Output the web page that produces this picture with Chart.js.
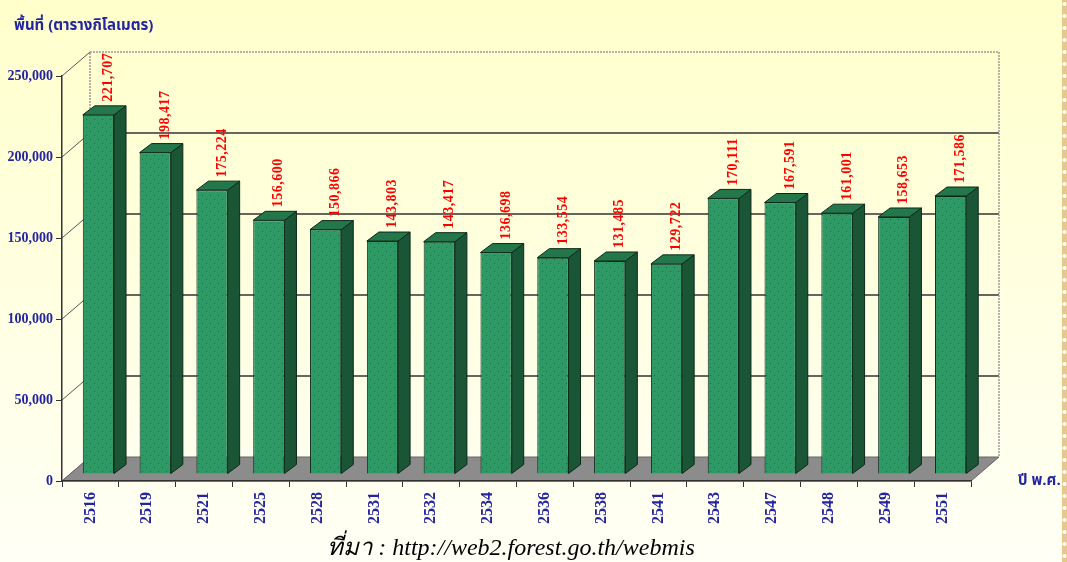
<!DOCTYPE html>
<html>
<head>
<meta charset="utf-8">
<script src="https://cdn.jsdelivr.net/npm/chart.js@4/dist/chart.umd.min.js"></script>
<style>
  html, body { margin: 0; padding: 0; background: #fffff4; }
  #wrap { width: 1067px; height: 562px; }
</style>
</head>
<body>
<div id="wrap"><canvas id="chart" width="1067" height="562"></canvas></div>
<script>
const years = ["2516", "2519", "2521", "2525", "2528", "2531", "2532", "2534", "2536", "2538", "2541", "2543", "2547", "2548", "2549", "2551"];
const area = [221707, 198417, 175224, 156600, 150866, 143803, 143417, 136698, 133554, 131485, 129722, 170111, 167591, 161001, 158653, 171586];
const yTicks = [0, 50000, 100000, 150000, 200000, 250000];

const yTitle = "พื้นที่ (ตารางกิโลเมตร)";
const xTitle = "ปี พ.ศ.";
const source = "ที่มา : http://web2.forest.go.th/webmis";

// depth of back wall, shift of bars into the box, depth of each bar
const WALL = { dx: 28, dy: -24 };
const SHIFT = { dx: 8, dy: -7 };
const BAR = { dx: 12, dy: -9 };

const blue = "#2424a0";
const thaiFont = "'Noto Sans Thai', 'Noto Sans', 'DejaVu Sans', sans-serif";

// dotted green fill for the bar faces
const tile = document.createElement("canvas");
tile.width = 8;
tile.height = 8;
const tctx = tile.getContext("2d");
tctx.fillStyle = "#2f9966";
tctx.fillRect(0, 0, 8, 8);
tctx.fillStyle = "#1f6a45";
tctx.fillRect(2, 2, 1, 1);
tctx.fillRect(6, 6, 1, 1);
const dots = tctx.createPattern(tile, "repeat");

const poly = (ctx, pts, fill, stroke) => {
	ctx.beginPath();
	ctx.moveTo(pts[0][0], pts[0][1]);
	pts.slice(1).forEach((p) => ctx.lineTo(p[0], p[1]));
	ctx.closePath();
	if (fill) {
		ctx.fillStyle = fill;
		ctx.fill();
	}
	if (stroke) {
		ctx.strokeStyle = stroke;
		ctx.lineWidth = 1;
		ctx.stroke();
	}
};

const scene = {
	id: "scene",
	beforeDraw(chart) {
		const { ctx, chartArea: a, scales } = chart;
		const w = chart.width;
		const h = chart.height;
		ctx.save();

		const bg = ctx.createLinearGradient(0, 0, 0, h);
		bg.addColorStop(0, "#ffffcc");
		bg.addColorStop(1, "#fffff6");
		ctx.fillStyle = bg;
		ctx.fillRect(0, 0, w, h);

		// dashed edge on the right
		ctx.fillStyle = "#e6c88c";
		ctx.fillRect(1062, 0, 5, h);
		ctx.fillStyle = "#ffffff";
		for (let y = 4; y < h; y += 12) {
			ctx.beginPath();
			ctx.arc(1064.5, y, 2, 0, Math.PI * 2);
			ctx.fill();
		}

		// back wall gridlines and left wall diagonals
		yTicks.forEach((v) => {
			const y = scales.y.getPixelForValue(v);
			if (v > 0 && v < 250000) {
				ctx.strokeStyle = "#333333";
				ctx.lineWidth = 1.5;
				ctx.beginPath();
				ctx.moveTo(a.left + WALL.dx, y + WALL.dy);
				ctx.lineTo(a.right + WALL.dx, y + WALL.dy);
				ctx.stroke();
			}
			ctx.strokeStyle = "#555555";
			ctx.lineWidth = 1;
			ctx.beginPath();
			ctx.moveTo(a.left, y);
			ctx.lineTo(a.left + WALL.dx, y + WALL.dy);
			ctx.stroke();
		});

		// wall outline
		ctx.setLineDash([2, 1]);
		ctx.strokeStyle = "#9a9a9a";
		ctx.lineWidth = 1.5;
		ctx.beginPath();
		ctx.moveTo(a.left + WALL.dx, a.bottom + WALL.dy);
		ctx.lineTo(a.left + WALL.dx, a.top + WALL.dy);
		ctx.lineTo(a.right + WALL.dx, a.top + WALL.dy);
		ctx.lineTo(a.right + WALL.dx, a.bottom + WALL.dy);
		ctx.stroke();
		ctx.setLineDash([]);

		// floor
		poly(ctx, [
			[a.left, a.bottom],
			[a.left + WALL.dx, a.bottom + WALL.dy],
			[a.right + WALL.dx, a.bottom + WALL.dy],
			[a.right, a.bottom],
		], "#8c8c8c", "#666666");

		ctx.restore();
	},
	beforeDatasetsDraw(chart) {
		chart.ctx.save();
		chart.ctx.translate(SHIFT.dx, SHIFT.dy);
	},
	afterDatasetsDraw(chart) {
		const ctx = chart.ctx;
		const meta = chart.getDatasetMeta(0);
		meta.data.forEach((bar, i) => {
			const { x, y, base, width } = bar.getProps(["x", "y", "base", "width"], true);
			const l = x - width / 2;
			const r = x + width / 2;
			poly(ctx, [[r, y], [r + BAR.dx, y + BAR.dy], [r + BAR.dx, base + BAR.dy], [r, base]], "#1a5536", "#0c2a1a");
			poly(ctx, [[l, y], [l + BAR.dx, y + BAR.dy], [r + BAR.dx, y + BAR.dy], [r, y]], "#24774b", "#0c2a1a");

			ctx.save();
			ctx.translate(x + 10, y - 13);
			ctx.rotate(-Math.PI / 2);
			ctx.fillStyle = "#ff0000";
			ctx.font = "bold 14px 'Liberation Serif', serif";
			ctx.letterSpacing = "0.5px";
			ctx.textAlign = "left";
			ctx.textBaseline = "middle";
			ctx.fillText(area[i].toLocaleString("en-US"), 0, 0);
			ctx.restore();
		});
		ctx.restore();
	},
	afterDraw(chart) {
		const ctx = chart.ctx;
		ctx.save();
		ctx.fillStyle = blue;
		ctx.textBaseline = "alphabetic";
		ctx.font = "bold 15px " + thaiFont;
		ctx.textAlign = "left";
		ctx.fillText(yTitle, 14, 30);
		ctx.fillText(xTitle, 1018, 485);

		ctx.fillStyle = "#000000";
		ctx.font = "italic 24px 'Liberation Serif', serif";
		ctx.textAlign = "center";
		ctx.fillText(source, 511, 555);
		ctx.restore();
	},
};

const data = {
	labels: years,
	datasets: [
		{
			data: area,
			backgroundColor: dots,
			borderColor: "#0c2a1a",
			borderWidth: 1,
			barPercentage: 0.55,
			categoryPercentage: 1,
		},
	],
};

const options = {
	responsive: false,
	animation: false,
	events: [],
	layout: {
		padding: { top: 76, right: 96, left: 0, bottom: 0 },
	},
	plugins: {
		legend: { display: false },
		tooltip: { enabled: false },
	},
	scales: {
		x: {
			afterFit: (s) => { s.height = 81; },
			grid: {
				offset: true,
				drawOnChartArea: false,
				tickLength: 6,
				tickColor: "#333333",
			},
			border: { color: "#333333", width: 1.5 },
			ticks: {
				autoSkip: false,
				minRotation: 90,
				maxRotation: 90,
				padding: 5,
				color: blue,
				font: { family: "'Liberation Serif', serif", size: 16, weight: "bold" },
			},
		},
		y: {
			min: 0,
			max: 250000,
			afterFit: (s) => { s.width = 62; },
			grid: {
				drawOnChartArea: false,
				tickLength: 6,
				tickColor: "#333333",
			},
			border: { color: "#333333", width: 1.5 },
			ticks: {
				stepSize: 50000,
				padding: 3,
				color: blue,
				font: { family: "'Liberation Serif', serif", size: 14, weight: "bold" },
				callback: (v) => v.toLocaleString("en-US"),
			},
		},
	},
};

new Chart(document.querySelector("#chart"), {
	type: "bar",
	data,
	options,
	plugins: [scene],
});
</script>
</body>
</html>
